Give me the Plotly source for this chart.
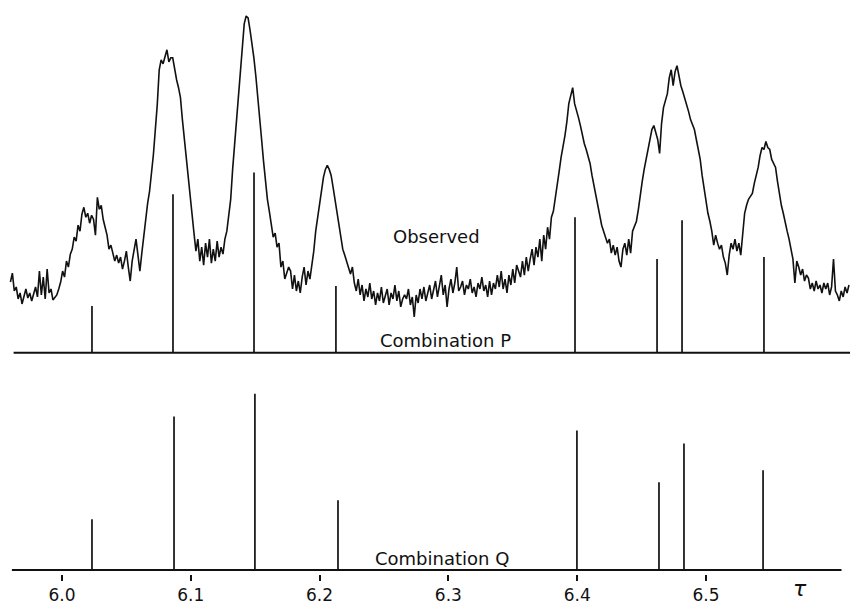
import plotly.graph_objects as go

# ---- Observed spectrum (tau, intensity above the P baseline, arbitrary units) ----
obs_tau = [
5.9600,5.9615,5.9630,5.9645,5.9660,5.9675,5.9690,5.9705,5.9720,5.9735,
5.9750,5.9765,5.9780,5.9795,5.9810,5.9825,5.9840,5.9855,5.9870,5.9885,
5.9900,5.9915,5.9930,5.9945,5.9960,5.9975,5.9990,6.0005,6.0020,6.0035,
6.0050,6.0065,6.0080,6.0095,6.0110,6.0125,6.0140,6.0155,6.0170,6.0185,
6.0200,6.0215,6.0230,6.0245,6.0260,6.0275,6.0290,6.0305,6.0320,6.0335,
6.0350,6.0365,6.0380,6.0395,6.0410,6.0425,6.0440,6.0455,6.0470,6.0485,
6.0500,6.0515,6.0530,6.0545,6.0560,6.0575,6.0590,6.0605,6.0620,6.0635,
6.0650,6.0665,6.0680,6.0695,6.0710,6.0725,6.0740,6.0755,6.0770,6.0785,
6.0800,6.0815,6.0830,6.0845,6.0860,6.0875,6.0890,6.0905,6.0920,6.0935,
6.0950,6.0965,6.0980,6.0995,6.1010,6.1025,6.1040,6.1055,6.1070,6.1085,
6.1100,6.1115,6.1130,6.1145,6.1160,6.1175,6.1190,6.1205,6.1220,6.1235,
6.1250,6.1265,6.1280,6.1295,6.1310,6.1325,6.1340,6.1355,6.1370,6.1385,
6.1400,6.1415,6.1430,6.1445,6.1460,6.1475,6.1490,6.1505,6.1520,6.1535,
6.1550,6.1565,6.1580,6.1595,6.1610,6.1625,6.1640,6.1655,6.1670,6.1685,
6.1700,6.1715,6.1730,6.1745,6.1760,6.1775,6.1790,6.1805,6.1820,6.1835,
6.1850,6.1865,6.1880,6.1895,6.1910,6.1925,6.1940,6.1955,6.1970,6.1985,
6.2000,6.2015,6.2030,6.2045,6.2060,6.2075,6.2090,6.2105,6.2120,6.2135,
6.2150,6.2165,6.2180,6.2195,6.2210,6.2225,6.2240,6.2255,6.2270,6.2285,
6.2300,6.2315,6.2330,6.2345,6.2360,6.2375,6.2390,6.2405,6.2420,6.2435,
6.2450,6.2465,6.2480,6.2495,6.2510,6.2525,6.2540,6.2555,6.2570,6.2585,
6.2600,6.2615,6.2630,6.2645,6.2660,6.2675,6.2690,6.2705,6.2720,6.2735,
6.2750,6.2765,6.2780,6.2795,6.2810,6.2825,6.2840,6.2855,6.2870,6.2885,
6.2900,6.2915,6.2930,6.2945,6.2960,6.2975,6.2990,6.3005,6.3020,6.3035,
6.3050,6.3065,6.3080,6.3095,6.3110,6.3125,6.3140,6.3155,6.3170,6.3185,
6.3200,6.3215,6.3230,6.3245,6.3260,6.3275,6.3290,6.3305,6.3320,6.3335,
6.3350,6.3365,6.3380,6.3395,6.3410,6.3425,6.3440,6.3455,6.3470,6.3485,
6.3500,6.3515,6.3530,6.3545,6.3560,6.3575,6.3590,6.3605,6.3620,6.3635,
6.3650,6.3665,6.3680,6.3695,6.3710,6.3725,6.3740,6.3755,6.3770,6.3785,
6.3800,6.3815,6.3830,6.3845,6.3860,6.3875,6.3890,6.3905,6.3920,6.3935,
6.3950,6.3965,6.3980,6.3995,6.4010,6.4025,6.4040,6.4055,6.4070,6.4085,
6.4100,6.4115,6.4130,6.4145,6.4160,6.4175,6.4190,6.4205,6.4220,6.4235,
6.4250,6.4265,6.4280,6.4295,6.4310,6.4325,6.4340,6.4355,6.4370,6.4385,
6.4400,6.4415,6.4430,6.4445,6.4460,6.4475,6.4490,6.4505,6.4520,6.4535,
6.4550,6.4565,6.4580,6.4595,6.4610,6.4625,6.4640,6.4655,6.4670,6.4685,
6.4700,6.4715,6.4730,6.4745,6.4760,6.4775,6.4790,6.4805,6.4820,6.4835,
6.4850,6.4865,6.4880,6.4895,6.4910,6.4925,6.4940,6.4955,6.4970,6.4985,
6.5000,6.5015,6.5030,6.5045,6.5060,6.5075,6.5090,6.5105,6.5120,6.5135,
6.5150,6.5165,6.5180,6.5195,6.5210,6.5225,6.5240,6.5255,6.5270,6.5285,
6.5300,6.5315,6.5330,6.5345,6.5360,6.5375,6.5390,6.5405,6.5420,6.5435,
6.5450,6.5465,6.5480,6.5495,6.5510,6.5525,6.5540,6.5555,6.5570,6.5585,
6.5600,6.5615,6.5630,6.5645,6.5660,6.5675,6.5690,6.5705,6.5720,6.5735,
6.5750,6.5765,6.5780,6.5795,6.5810,6.5825,6.5840,6.5855,6.5870,6.5885,
6.5900,6.5915,6.5930,6.5945,6.5960,6.5975,6.5990,6.6005,6.6020,6.6035,
6.6050,6.6065,6.6080,6.6095,6.6110,
]

obs_intensity = [
71,80,62,66,54,60,49,58,64,55,60,52,58,66,56,82,58,76,54,84,60,64,53,56,
58,64,71,82,76,92,86,99,104,116,112,128,122,139,146,136,140,130,138,134,118,156,144,148,134,126,118,104,108,100,
92,98,90,96,84,92,102,86,72,92,104,114,98,82,100,118,134,150,162,179,199,224,249,284,294,290,298,304,292,296,
296,284,274,266,256,234,214,196,176,158,139,120,102,114,92,106,88,110,96,114,90,104,92,112,96,106,99,114,122,138,
154,184,209,236,264,288,314,330,338,336,324,312,296,278,254,239,214,192,172,154,142,128,116,120,106,110,86,92,74,80,
86,82,64,78,62,72,60,76,86,68,82,74,88,102,122,136,149,164,176,184,188,184,178,166,154,140,126,114,104,98,
92,86,79,86,70,62,74,58,68,52,64,56,70,54,62,48,60,52,66,50,58,64,48,60,54,68,52,62,46,54,
58,54,64,48,56,36,58,50,64,54,66,52,60,68,54,62,72,56,66,78,58,68,46,64,74,60,70,86,62,66,
72,58,68,64,74,60,66,56,70,64,76,62,68,56,72,58,70,64,78,66,82,64,74,60,78,68,84,70,88,82,
76,92,78,96,82,94,104,88,106,96,114,92,118,104,126,114,136,142,154,168,182,196,206,218,232,250,258,266,250,244,
236,228,218,210,204,196,190,178,168,158,146,136,128,122,116,110,114,100,108,98,106,92,86,104,110,98,114,100,122,128,
132,144,160,172,184,194,204,216,224,228,222,214,200,230,246,254,260,276,284,268,282,288,276,268,262,256,250,242,234,229,
224,214,204,194,178,164,150,140,132,122,108,118,110,104,108,96,90,78,98,110,104,114,102,110,98,120,140,148,154,157,
160,170,178,186,198,206,204,212,206,204,194,190,186,172,158,148,140,130,122,114,104,94,70,92,86,78,84,72,78,75,
64,70,62,72,64,68,60,70,64,70,58,66,94,62,58,52,62,56,66,60,68,
]

# ---- Stick spectra ----
p_tau = [6.0233, 6.0862, 6.1491, 6.2127, 6.3983, 6.4620, 6.4814, 6.5450]
p_intensity = [47, 159, 181, 67, 136, 94, 133, 96]
q_tau = [6.0233, 6.0870, 6.1498, 6.2143, 6.3998, 6.4635, 6.4829, 6.5443]
q_intensity = [51, 154, 177, 70, 140, 88, 127, 100]

tick_vals = [6.0, 6.1, 6.2, 6.3, 6.4, 6.5]
tick_text = ["6.0", "6.1", "6.2", "6.3", "6.4", "6.5"]

assert len(obs_tau) == len(obs_intensity), (len(obs_tau), len(obs_intensity))

# vertical placement of the panels (layout only)
P_BASE = 218
Q_BASE = 0
INK = "#111111"
FONT = "DejaVu Sans"

fig = go.Figure()

fig.add_trace(go.Scatter(
    x=obs_tau, y=[P_BASE + v for v in obs_intensity],
    mode="lines", line=dict(color=INK, width=1.6), showlegend=False, hoverinfo="skip"))

def sticks(taus, vals, base):
    xs, ys = [], []
    for t, v in zip(taus, vals):
        xs += [t, t, None]
        ys += [base, base + v, None]
    return xs, ys

for taus, vals, base in [(p_tau, p_intensity, P_BASE), (q_tau, q_intensity, Q_BASE)]:
    xs, ys = sticks(taus, vals, base)
    fig.add_trace(go.Scatter(x=xs, y=ys, mode="lines",
                             line=dict(color=INK, width=1.7),
                             showlegend=False, hoverinfo="skip"))

# baselines
fig.add_shape(type="line", xref="paper", yref="y", x0=0.016, x1=1.0,
              y0=P_BASE, y1=P_BASE, line=dict(color=INK, width=2))
fig.add_shape(type="line", xref="paper", yref="y", x0=0.014, x1=0.99,
              y0=Q_BASE, y1=Q_BASE, line=dict(color=INK, width=2))

ann_font = dict(family=FONT, size=18, color=INK)
fig.add_annotation(x=6.2911, y=335, text="Observed", showarrow=False, font=ann_font)
fig.add_annotation(x=6.2981, y=230, text="Combination P", showarrow=False, font=ann_font)
fig.add_annotation(x=6.2950, y=12, text="Combination Q", showarrow=False, font=ann_font)
fig.add_annotation(x=6.573, xref="x", y=-0.026, yref="paper", text="<i>τ</i>",
                   showarrow=False, yanchor="middle",
                   font=dict(family=FONT, size=22, color=INK))

fig.update_layout(
    width=850, height=605,
    margin=dict(l=0, r=0, t=0, b=29),
    paper_bgcolor="white", plot_bgcolor="white",
    xaxis=dict(range=[5.9519, 6.6118], tickvals=tick_vals, ticktext=tick_text,
               ticks="outside", ticklen=6, tickwidth=1.5, tickcolor=INK,
               showline=False, showgrid=False, zeroline=False,
               tickfont=dict(family=FONT, size=17, color=INK)),
    yaxis=dict(range=[-4, 572], visible=False, showgrid=False, zeroline=False),
)

fig.write_html("out.html")
